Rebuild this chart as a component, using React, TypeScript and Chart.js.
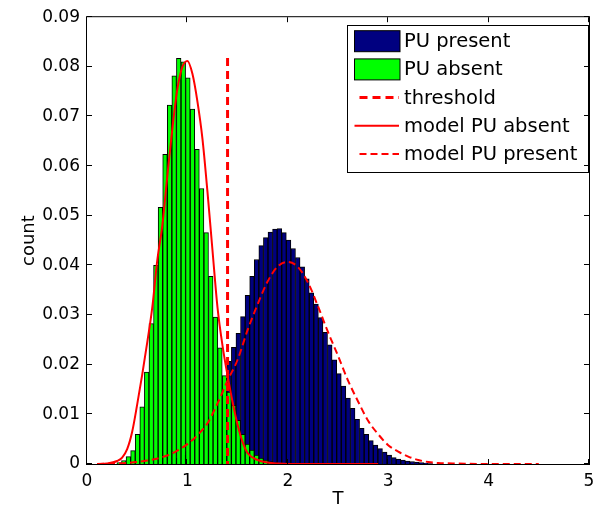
import React, { useEffect, useRef } from 'react';
import { Chart, registerables } from 'chart.js';

Chart.register(...registerables);

// ---- data ----
const BIN_START = 0.298; // left edge of the first histogram bin
const BIN_WIDTH = 0.0456;

const puAbsent = [
  0.0003, 0.0007, 0.0015, 0.0027, 0.006, 0.0115, 0.0185, 0.0283, 0.04, 0.0517,
  0.0624, 0.0723, 0.0782, 0.0817, 0.081, 0.0778, 0.0715, 0.0634, 0.0555, 0.0466,
  0.0378, 0.0296, 0.0234, 0.0178, 0.0145, 0.0118, 0.0088, 0.006, 0.004, 0.0028,
  0.0018, 0.0012, 0.0008, 0.0005, 0.0003, 0.0002, 0.0001, 0, 0, 0,
  0, 0, 0, 0, 0, 0, 0, 0, 0, 0,
  0, 0, 0, 0, 0, 0, 0, 0, 0, 0,
  0, 0, 0, 0, 0, 0, 0, 0, 0,
];

const puPresent = [
  0, 0, 0, 0, 0, 0, 0, 0, 0, 0,
  0.0003, 0.0005, 0.0008, 0.0012, 0.0018, 0.0025, 0.0035, 0.0047, 0.0062, 0.0078,
  0.0095, 0.0115, 0.014, 0.017, 0.0207, 0.0235, 0.0263, 0.0297, 0.034, 0.0378,
  0.0412, 0.044, 0.0456, 0.0467, 0.0473, 0.0474, 0.0466, 0.0451, 0.0434, 0.0416,
  0.0397, 0.0373, 0.0345, 0.0322, 0.0295, 0.0265, 0.024, 0.021, 0.0182, 0.0157,
  0.0133, 0.0112, 0.009, 0.0072, 0.006, 0.0047, 0.0038, 0.0031, 0.0024, 0.0018,
  0.0013, 0.001, 0.0008, 0.0006, 0.0005, 0.0004, 0.0003, 0.0002, 0.0001,
];

const binCenters = puAbsent.map((_, i) => BIN_START + (i + 0.5) * BIN_WIDTH);

const thresholdX = [1.4, 1.4];
const thresholdY = [0.0818, 0];

const modelAbsentX = [0.1, 0.2, 0.3, 0.35, 0.4, 0.45, 0.5, 0.55, 0.6, 0.65, 0.7, 0.75, 0.8, 0.85, 0.9, 0.95, 1.0, 1.05, 1.1, 1.15, 1.2, 1.25, 1.3, 1.35, 1.4, 1.45, 1.5, 1.55, 1.6, 1.7, 1.8, 1.9, 2.0, 2.9];
const modelAbsentY = [0, 0.0001, 0.0006, 0.0013, 0.003, 0.0065, 0.012, 0.018, 0.0245, 0.0315, 0.041, 0.048, 0.058, 0.0675, 0.0755, 0.08, 0.0812, 0.0786, 0.073, 0.0655, 0.0548, 0.043, 0.0315, 0.0238, 0.0178, 0.0125, 0.0079, 0.0044, 0.0022, 0.0008, 0.0003, 0.0001, 0, 0];

const modelPresentX = [0.1, 0.4, 0.6, 0.8, 0.9, 1.0, 1.1, 1.2, 1.3, 1.4, 1.5, 1.6, 1.7, 1.8, 1.9, 2.0, 2.1, 2.2, 2.3, 2.4, 2.5, 2.6, 2.7, 2.8, 2.9, 3.0, 3.1, 3.2, 3.3, 3.4, 3.5, 3.7, 4.0, 4.5];
const modelPresentY = [0, 0.0002, 0.0007, 0.0017, 0.0027, 0.004, 0.0058, 0.0082, 0.0122, 0.0168, 0.021, 0.027, 0.0322, 0.0368, 0.0398, 0.0407, 0.0397, 0.0366, 0.0318, 0.0266, 0.0218, 0.0168, 0.0126, 0.0087, 0.006, 0.0038, 0.0025, 0.0015, 0.0008, 0.0004, 0.0002, 0.0001, 0, 0];

const xTickStep = 1;
const yTickStep = 0.01;

const FONT = 'DejaVu Sans';
const NAVY = '#000080';
const GREEN = '#00ff00';
const RED = '#ff0000';

const pts = (xs: number[], ys: number[]) => xs.map((x, i) => ({ x, y: ys[i] }));

const matlabPlugin = {
  id: 'matlabDecor',
  afterDraw(chart: any) {
    const { ctx, chartArea } = chart;
    const { left: L, right: R, top: T, bottom: B } = chartArea;
    ctx.save();

    // legend box
    const lx = R - 242;
    const ly = T + 7.5;
    const lw = R - lx;
    const lh = 147;
    ctx.fillStyle = '#fff';
    ctx.fillRect(lx, ly, lw, lh);
    ctx.strokeStyle = '#000';
    ctx.lineWidth = 1;
    ctx.strokeRect(Math.round(lx) + 0.5, Math.round(ly) + 0.5, Math.round(lw) - 1, Math.round(lh));
    ctx.font = `19.5px "${FONT}"`;
    ctx.textBaseline = 'middle';
    ctx.textAlign = 'left';
    chart.data.datasets.forEach((ds: any, i: number) => {
      const cy = ly + 16.5 + i * 28.2;
      if (ds.type === 'bar') {
        ctx.fillStyle = ds.backgroundColor;
        ctx.fillRect(lx + 7.5, cy - 10.5, 45.5, 21);
        ctx.strokeStyle = '#000';
        ctx.lineWidth = 1;
        ctx.setLineDash([]);
        ctx.strokeRect(lx + 7.5, cy - 10.5, 45.5, 21);
      } else {
        const dashed = ds.borderDash && ds.borderDash.length;
        ctx.strokeStyle = ds.borderColor;
        ctx.lineWidth = ds.borderWidth;
        ctx.setLineDash(dashed ? ds.borderDash : []);
        ctx.beginPath();
        ctx.moveTo(lx + (dashed ? 12.5 : 7.5), cy);
        ctx.lineTo(lx + 52, cy);
        ctx.stroke();
        ctx.setLineDash([]);
      }
      ctx.fillStyle = '#000';
      ctx.fillText(ds.label, lx + 57, cy + 1);
    });

    // axes box with inward ticks
    ctx.strokeStyle = '#000';
    ctx.lineWidth = 1;
    ctx.setLineDash([]);
    ctx.strokeRect(L - 0.5, T - 0.5, R - L + 1, B - T + 1);
    const tl = 5;
    ctx.beginPath();
    const xs = chart.scales.x;
    xs.ticks.forEach((t: any) => {
      const px = Math.round(xs.getPixelForValue(t.value)) - 0.5;
      ctx.moveTo(px, B);
      ctx.lineTo(px, B - tl);
      ctx.moveTo(px, T);
      ctx.lineTo(px, T + tl);
    });
    const ys = chart.scales.y;
    ys.ticks.forEach((t: any) => {
      const py = Math.round(ys.getPixelForValue(t.value)) - 0.5;
      ctx.moveTo(L, py);
      ctx.lineTo(L + tl, py);
      ctx.moveTo(R, py);
      ctx.lineTo(R - tl, py);
    });
    ctx.stroke();
    ctx.restore();
  },
};

export default function App() {
  const ref = useRef<HTMLCanvasElement>(null);

  useEffect(() => {
    const canvas = ref.current;
    if (!canvas) return;
    const barCommon = {
      type: 'bar' as const,
      borderColor: '#000',
      borderWidth: 1,
      barPercentage: 1,
      categoryPercentage: 1,
      grouped: false,
      borderSkipped: 'start' as const,
    };
    const lineCommon = {
      type: 'line' as const,
      borderColor: RED,
      pointRadius: 0,
      fill: false,
      order: 0,
    };
    const chart = new Chart(canvas, {
      type: 'bar',
      data: {
        datasets: [
          { ...barCommon, label: 'PU present', data: pts(binCenters, puPresent), backgroundColor: NAVY, order: 2 },
          { ...barCommon, label: 'PU absent', data: pts(binCenters, puAbsent), backgroundColor: GREEN, order: 1 },
          { ...lineCommon, label: 'threshold', data: pts(thresholdX, thresholdY), borderWidth: 3, borderDash: [8, 5] },
          { ...lineCommon, label: 'model PU absent', data: pts(modelAbsentX, modelAbsentY), borderWidth: 2, cubicInterpolationMode: 'monotone' },
          { ...lineCommon, label: 'model PU present', data: pts(modelPresentX, modelPresentY), borderWidth: 2, borderDash: [7, 4], cubicInterpolationMode: 'monotone' },
        ] as any,
      },
      options: {
        responsive: false,
        animation: false,
        devicePixelRatio: 1,
        layout: { padding: { top: 11, right: 20, left: 0, bottom: 0 } },
        plugins: {
          legend: { display: false },
          tooltip: { enabled: false },
        },
        scales: {
          x: {
            type: 'linear',
            min: 0,
            max: 5,
            offset: false,
            grid: { display: false, drawTicks: false, offset: false },
            border: { display: false },
            ticks: {
              stepSize: xTickStep,
              padding: 7,
              color: '#000',
              maxRotation: 0,
              autoSkip: false,
              font: { family: FONT, size: 17 },
            },
            title: {
              display: true,
              text: 'T',
              color: '#000',
              font: { family: FONT, size: 18 },
              padding: { top: 0, bottom: 5 },
            },
            afterFit: (s: any) => {
              s.height = 51;
            },
          },
          y: {
            type: 'linear',
            min: 0,
            max: 0.09,
            grid: { display: false, drawTicks: false },
            border: { display: false },
            ticks: {
              stepSize: yTickStep,
              padding: 7,
              color: '#000',
              font: { family: FONT, size: 17 },
              callback: (v: any) => (Number(v) === 0 ? '0' : Number(v).toFixed(2)),
            },
            title: {
              display: true,
              text: 'count',
              color: '#000',
              font: { family: FONT, size: 18 },
              padding: { top: 19, bottom: 0 },
            },
            afterFit: (s: any) => {
              s.width = 87;
            },
          },
        },
      } as any,
      plugins: [matlabPlugin],
    });
    return () => chart.destroy();
  }, []);

  return (
    <div style={{ position: 'fixed', left: 0, top: 0, width: 609, height: 515, background: '#fff' }}>
      <canvas ref={ref} width={609} height={515} style={{ display: 'block', width: 609, height: 515 }} />
    </div>
  );
}
